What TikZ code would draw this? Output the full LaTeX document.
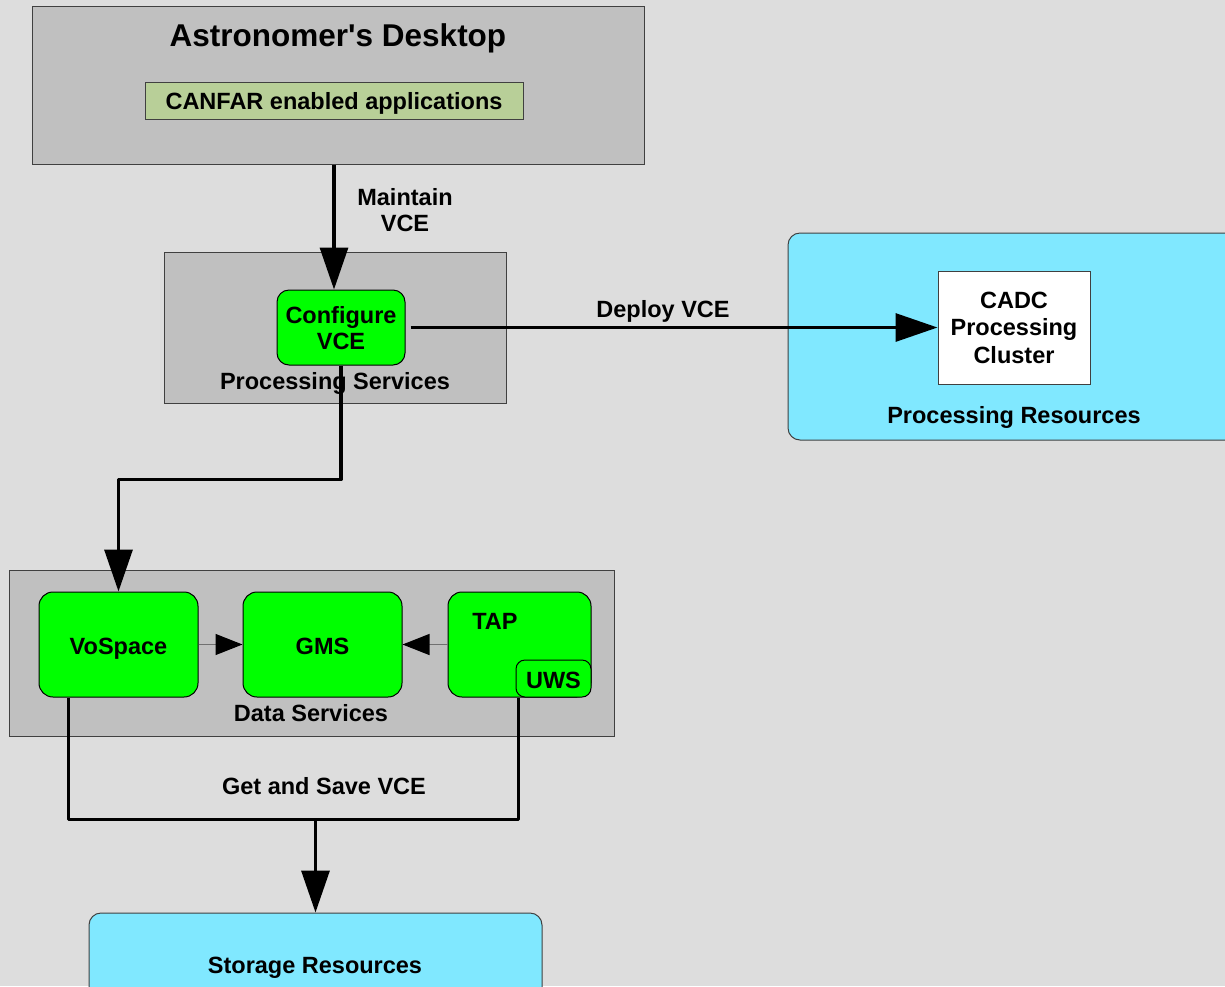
\documentclass[tikz,border=0pt]{standalone}
\usepackage{fontspec}
\setmainfont{Liberation Sans}
\newfontfamily\plainarial{Liberation Sans}
\usetikzlibrary{arrows.meta,calc}
\definecolor{bgc}{HTML}{DDDDDD}
\definecolor{boxgray}{HTML}{C0C0C0}
\definecolor{edgegray}{HTML}{404040}
\definecolor{olive}{HTML}{B8CF98}
\definecolor{vgreen}{HTML}{00FF00}
\definecolor{cyanres}{HTML}{80E8FF}
\definecolor{thingray}{HTML}{707070}
\tikzset{
  grpbox/.style={draw=edgegray, line width=1pt, fill=boxgray, inner sep=0pt},
  svcbox/.style={draw=black, line width=1pt, fill=vgreen, rounded corners=14pt, inner sep=0pt, align=center},
  resbox/.style={draw=edgegray, line width=1pt, fill=cyanres, rounded corners=12pt, inner sep=0pt},
  lbl/.style={font=\fontsize{23.5}{26}\selectfont\bfseries, align=center, inner sep=0pt},
  bigarrow/.style={line width=3.2pt, -{Triangle[length=42pt,width=28pt]}},
  smallarrow/.style={draw=thingray, line width=1.2pt, -{Triangle[length=27pt,width=21pt,color=black]}},
  wire/.style={line width=3.2pt, line join=round}
}
\begin{document}
\begin{tikzpicture}[x=1pt,y=-1pt]
\useasboundingbox (0,0) rectangle (1225,986);
\clip (0,0) rectangle (1225,986);
\fill[bgc] (0,0) rectangle (1225,986);

% Astronomer's Desktop
\node[grpbox, minimum width=612pt, minimum height=158pt] (desk) at (338,85) {};
\node[lbl, font=\fontsize{31.5}{34}\selectfont\bfseries\plainarial] (desktitle) at (338,38) {Astronomer's Desktop};
\node[draw=edgegray, line width=1pt, fill=olive, minimum width=378pt, minimum height=37pt, inner sep=0pt] (canfar) at (334,100.5) {};
\node[lbl] (canfarlbl) at (334,103.5) {CANFAR enabled applications};

% Processing Services
\node[grpbox, minimum width=342pt, minimum height=151pt] (procsvc) at (335,327.5) {};
\node[svcbox, minimum width=128pt, minimum height=75pt, rounded corners=12pt] (cfg) at (341,327.5) {};
\node[lbl] (cfglbl) at (341,328.5) {Configure\\VCE};

% Processing Resources
\node[resbox, minimum width=470pt, minimum height=207pt] (procres) at (1023,336.5) {};
\node[draw=edgegray, line width=1pt, fill=white, minimum width=152pt, minimum height=113pt, lbl, font=\fontsize{23.5}{27.5}\selectfont\bfseries] (cadc) at (1014,327.5) {CADC\\Processing\\Cluster};
\node[lbl] (procreslbl) at (1014,417) {Processing Resources};

% Data Services
\node[grpbox, minimum width=605pt, minimum height=166pt] (datasvc) at (311.5,653) {};
\node[svcbox, minimum width=159pt, minimum height=105pt] (vos) at (118.5,644.5) {};
\node[lbl] (voslbl) at (118.5,648.5) {VoSpace};
\node[svcbox, minimum width=159pt, minimum height=105pt] (gms) at (322.5,644.5) {};
\node[lbl] (gmslbl) at (322.5,646.5) {GMS};
\node[svcbox, minimum width=143pt, minimum height=105pt] (tap) at (519.5,644.5) {};
\node[lbl] (taplbl) at (495,621) {TAP};
\node[svcbox, minimum width=75pt, minimum height=37pt, rounded corners=9pt] (uws) at (553.5,678.5) {};
\node[lbl] (uwslbl) at (553.5,680.5) {UWS};
\node[lbl] (datalbl) at (311,713) {Data Services};

% Storage Resources
\node[resbox, minimum width=453pt, minimum height=100pt] (storage) at (315.5,963) {};
\node[lbl] (storagelbl) at (315,968) {Storage Resources};

\node[lbl] (proclbl) at (335,383) {Processing Services};

% Connectors
\draw[bigarrow] (desk.south -| 334,0) -- ($(cfg.north)+(-7,0)$);
\node[lbl] (maintainlbl) at (405,210) {Maintain\\VCE};

\draw[bigarrow] ($(cfg.east)+(5,0)$) -- (cfg.east -| cadc.west);
\node[lbl] (deploylbl) at (663,311) {Deploy VCE};

\draw[wire, -{Triangle[length=42pt,width=28pt]}] (cfg.south) -- ++(0,114) -| (vos.north);

\draw[smallarrow] (vos.east) -- (gms.west);
\draw[smallarrow] (tap.west) -- (gms.east);

\draw[wire] ($(vos.south west)+(30,0)$) -- ++(0,122) -| ($(uws.south west)+(3,0)$);
\draw[bigarrow] (315.5,819) -- (storage.north);
\node[lbl] (getlbl) at (324,786) {Get and Save VCE};
\end{tikzpicture}
\end{document}
